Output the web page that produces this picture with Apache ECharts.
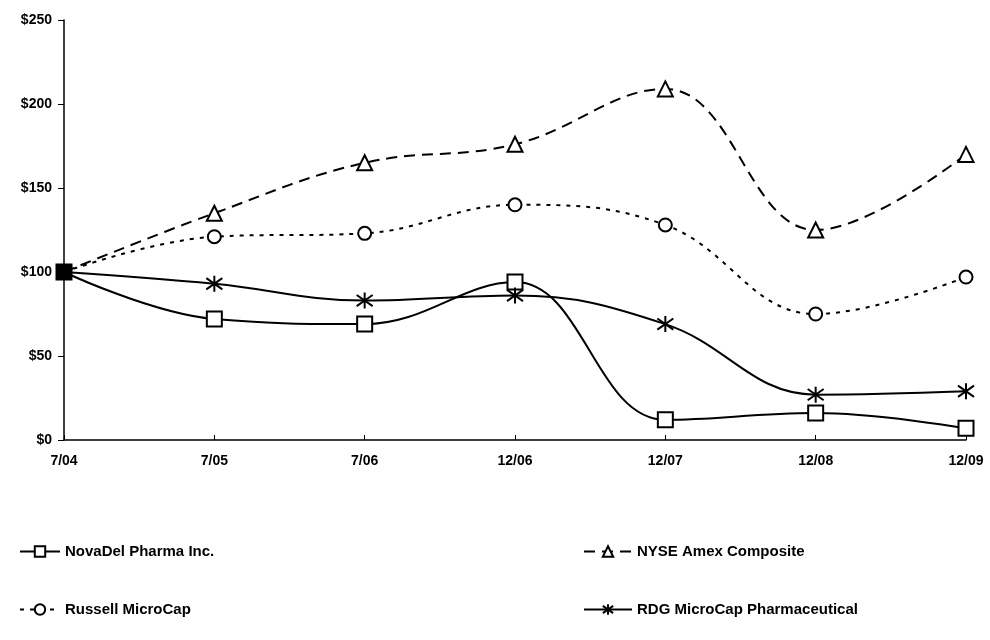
<!DOCTYPE html>
<html>
<head>
<meta charset="utf-8">
<script src="https://cdn.jsdelivr.net/npm/echarts@6/dist/echarts.min.js"></script>
<style>
  html, body { margin: 0; padding: 0; background: #fff; }
  #chart { width: 990px; height: 640px; }
</style>
</head>
<body>
<div id="chart"></div>
<script>
// categories and values
var periods = ['7/04', '7/05', '7/06', '12/06', '12/07', '12/08', '12/09'];
var novadel = [100, 72, 69, 94, 12, 16, 7];
var nyseAmex = [100, 135, 165, 176, 209, 125, 170];
var russell = [100, 121, 123, 140, 128, 75, 97];
var rdgPharma = [100, 93, 83, 86, 69, 27, 29];

// star marker: one upright stroke crossed by an X
var asterisk = 'path://M10,0L10,20M2.5,3L17.5,17M2.5,17L17.5,3';

var chart = echarts.init(document.getElementById('chart'));

// at the start all four markers sit on top of each other and read as one solid square,
// so the first point keeps a filled square on NovaDel and no marker on the others
function startPoint(arr, filled) {
  return arr.map(function (v, i) {
    if (i !== 0) return v;
    if (filled) {
      return { value: v, symbol: 'rect', symbolSize: 15, itemStyle: { color: '#000', borderColor: '#000' } };
    }
    return { value: v, symbol: 'none' };
  });
}

function lineSeries(name, data, symbol, size, dash) {
  return {
    name: name,
    type: 'line',
    data: data,
    smooth: 0.4,
    symbol: symbol,
    symbolSize: size,
    showAllSymbol: true,
    lineStyle: { color: '#000', width: 2, type: dash },
    itemStyle: { color: '#fff', borderColor: '#000', borderWidth: 2 },
    z: 3
  };
}

var labelFont = { fontFamily: 'Liberation Sans', fontWeight: 'bold', fontSize: 14, color: '#000' };
var legendFont = { fontFamily: 'Liberation Sans', fontWeight: 'bold', fontSize: 15, color: '#000' };

var option = {
  backgroundColor: '#fff',
  animation: false,
  grid: { left: 64, right: 24, top: 20, bottom: 200 },
  xAxis: {
    type: 'category',
    data: periods,
    boundaryGap: false,
    axisLine: { lineStyle: { color: '#000', width: 1.5 } },
    axisTick: { inside: true, length: 5, lineStyle: { color: '#000' } },
    axisLabel: Object.assign({ margin: 14 }, labelFont),
    splitLine: { show: false }
  },
  yAxis: {
    type: 'value',
    min: 0,
    max: 250,
    interval: 50,
    axisLine: { show: true, lineStyle: { color: '#000', width: 1.5 } },
    axisTick: { show: true, length: 6, lineStyle: { color: '#000' } },
    axisLabel: Object.assign({ margin: 12, formatter: '${value}' }, labelFont),
    splitLine: { show: false }
  },
  legend: [
    {
      data: ['NovaDel Pharma Inc.', 'Russell MicroCap'],
      orient: 'vertical',
      left: 14,
      top: 539,
      itemGap: 43,
      itemWidth: 40,
      itemHeight: 13,
      textStyle: legendFont
    },
    {
      data: ['NYSE Amex Composite', 'RDG MicroCap Pharmaceutical'],
      orient: 'vertical',
      left: 578,
      top: 539,
      itemGap: 43,
      itemWidth: 48,
      itemHeight: 13,
      textStyle: legendFont
    }
  ],
  series: [
    lineSeries('NovaDel Pharma Inc.', startPoint(novadel, true), 'rect', 15, 'solid'),
    lineSeries('NYSE Amex Composite', startPoint(nyseAmex, false), 'triangle', 15, [11, 7]),
    lineSeries('Russell MicroCap', startPoint(russell, false), 'circle', 13, [4, 6]),
    lineSeries('RDG MicroCap Pharmaceutical', startPoint(rdgPharma, false), asterisk, 16, 'solid')
  ]
};

chart.setOption(option);
</script>
</body>
</html>
